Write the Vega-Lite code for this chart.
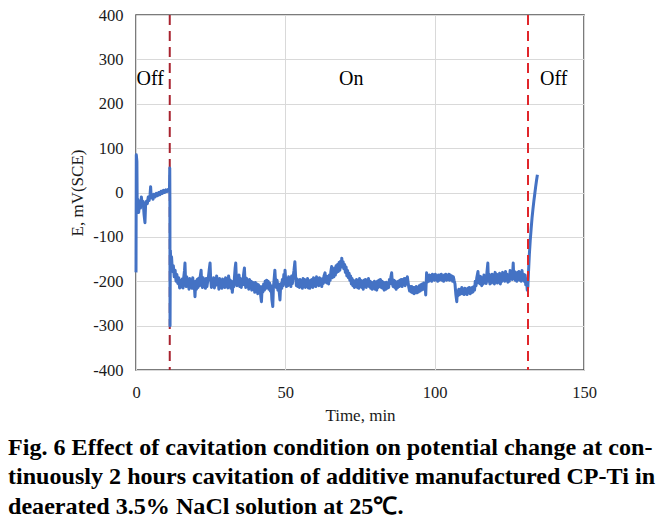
{
  "$schema": "https://vega.github.io/schema/vega-lite/v6.json",
  "width": 448,
  "height": 355,
  "autosize": {"type": "none"},
  "padding": {"left": 136, "top": 15, "right": 85, "bottom": 152},
  "background": "white",
  "config": {
    "view": {"stroke": "#505050", "strokeWidth": 1.5},
    "font": "Liberation Serif",
    "axis": {
      "domain": false,
      "ticks": false,
      "grid": true,
      "gridColor": "#d9d9d9",
      "gridWidth": 1,
      "labelFlush": false,
      "labelFont": "Liberation Serif",
      "labelFontSize": 16.5,
      "labelColor": "#1a1a1a",
      "titleFont": "Liberation Serif",
      "titleFontSize": 17,
      "titleFontWeight": "normal",
      "titleColor": "#1a1a1a"
    }
  },
  "title": {
    "text": [
      "Fig. 6 Effect of cavitation condition on potential change at con-",
      "tinuously 2 hours cavitation of additive manufactured CP-Ti in",
      "deaerated 3.5% NaCl solution at 25℃."
    ],
    "orient": "bottom",
    "anchor": "start",
    "frame": "group",
    "dx": -128,
    "offset": 12,
    "font": "Liberation Serif",
    "fontSize": 24.1,
    "fontWeight": "bold",
    "lineHeight": 29.5,
    "color": "#000000"
  },
  "datasets": {
    "series": [
      {"t":0.0,"E":-180},{"t":0.1,"E":85},{"t":0.3,"E":70},{"t":0.4,"E":-30},{"t":0.6,"E":-15},{"t":0.9,"E":-45},{"t":1.2,"E":-20},{"t":1.5,"E":-35},{"t":1.8,"E":-10},{"t":2.1,"E":-30},{"t":2.4,"E":-20},{"t":2.7,"E":-50},{"t":3.0,"E":-68},{"t":3.2,"E":-30},{"t":3.5,"E":-20},{"t":3.8,"E":-25},{"t":4.1,"E":-10},{"t":4.4,"E":-18},{"t":4.7,"E":-5},{"t":4.9,"E":13},{"t":5.1,"E":-12},{"t":5.4,"E":-5},{"t":5.7,"E":-15},{"t":6.0,"E":-4},{"t":6.4,"E":-10},{"t":6.8,"E":-2},{"t":7.2,"E":-7},{"t":7.6,"E":0},{"t":8.0,"E":-5},{"t":8.4,"E":3},{"t":8.8,"E":-2},{"t":9.2,"E":5},{"t":9.6,"E":0},{"t":10.0,"E":6},{"t":10.4,"E":2},{"t":10.8,"E":7},{"t":11.2,"E":4},
      {"t":11.3,"E":55},{"t":11.35,"E":-10},{"t":11.4,"E":-300},{"t":11.5,"E":-130},{"t":11.7,"E":-160},{"t":11.9,"E":-145},{"t":12.2,"E":-178},{"t":12.5,"E":-165},{"t":12.8,"E":-190},{"t":13.1,"E":-175},{"t":13.4,"E":-200},{"t":13.7,"E":-185},{"t":14.0,"E":-205},{"t":14.3,"E":-192},{"t":14.6,"E":-215},
      {"t":15.0,"E":-198},{"t":15.25,"E":-213},{"t":15.5,"E":-195},{"t":15.75,"E":-215},{"t":16.0,"E":-190},{"t":16.25,"E":-175},{"t":16.4,"E":-159},{"t":16.6,"E":-200},{"t":16.8,"E":-212},{"t":17.0,"E":-190},{"t":17.25,"E":-208},{"t":17.5,"E":-196},{"t":17.75,"E":-218},{"t":18.0,"E":-194},{"t":18.25,"E":-210},{"t":18.5,"E":-198},{"t":18.75,"E":-216},{"t":19.0,"E":-192},{"t":19.25,"E":-212},{"t":19.5,"E":-205},{"t":19.75,"E":-235},{"t":20.0,"E":-200},{"t":20.25,"E":-218},{"t":20.5,"E":-196},{"t":20.75,"E":-214},{"t":21.0,"E":-193},{"t":21.25,"E":-210},{"t":21.5,"E":-190},{"t":21.8,"E":-175},{"t":22.0,"E":-205},{"t":22.25,"E":-214},{"t":22.5,"E":-192},{"t":22.75,"E":-210},{"t":23.0,"E":-198},{"t":23.25,"E":-216},{"t":23.5,"E":-194},{"t":23.75,"E":-212},{"t":24.0,"E":-200},{"t":24.25,"E":-190},{"t":24.5,"E":-175},{"t":24.8,"E":-159},{"t":25.0,"E":-195},{"t":25.25,"E":-214},{"t":25.5,"E":-196},{"t":25.75,"E":-210},{"t":26.0,"E":-192},{"t":26.25,"E":-215},{"t":26.5,"E":-198},{"t":26.75,"E":-209},{"t":27.0,"E":-188},{"t":27.25,"E":-206},{"t":27.5,"E":-196},{"t":27.75,"E":-218},{"t":28.0,"E":-194},{"t":28.25,"E":-211},{"t":28.5,"E":-197},{"t":28.75,"E":-216},{"t":29.0,"E":-195},{"t":29.25,"E":-210},{"t":29.5,"E":-199},{"t":29.75,"E":-214},{"t":30.0,"E":-192},{"t":30.25,"E":-209},{"t":30.5,"E":-196},{"t":30.75,"E":-215},{"t":31.0,"E":-188},{"t":31.25,"E":-204},{"t":31.5,"E":-197},{"t":31.75,"E":-216},{"t":32.0,"E":-200},{"t":32.25,"E":-225},{"t":32.5,"E":-205},{"t":32.75,"E":-212},{"t":33.0,"E":-188},{"t":33.2,"E":-170},{"t":33.4,"E":-159},{"t":33.6,"E":-195},{"t":33.8,"E":-210},{"t":34.0,"E":-190},{"t":34.25,"E":-206},{"t":34.5,"E":-186},{"t":34.75,"E":-212},{"t":35.0,"E":-194},{"t":35.25,"E":-214},{"t":35.5,"E":-196},{"t":35.75,"E":-208},{"t":36.0,"E":-186},{"t":36.3,"E":-170},{"t":36.5,"E":-200},{"t":36.75,"E":-214},{"t":37.0,"E":-193},{"t":37.25,"E":-210},{"t":37.5,"E":-198},{"t":37.75,"E":-218},{"t":38.0,"E":-196},{"t":38.25,"E":-212},{"t":38.5,"E":-200},{"t":38.75,"E":-220},{"t":39.0,"E":-202},{"t":39.25,"E":-216},{"t":39.5,"E":-204},{"t":39.75,"E":-225},{"t":40.0,"E":-203},{"t":40.25,"E":-218},{"t":40.5,"E":-206},{"t":40.75,"E":-228},{"t":41.0,"E":-208},{"t":41.25,"E":-222},{"t":41.5,"E":-212},{"t":41.75,"E":-232},{"t":42.0,"E":-246},{"t":42.25,"E":-212},{"t":42.5,"E":-224},{"t":42.75,"E":-206},{"t":43.0,"E":-220},{"t":43.25,"E":-200},{"t":43.5,"E":-216},{"t":43.75,"E":-198},{"t":44.0,"E":-214},{"t":44.25,"E":-200},{"t":44.5,"E":-218},{"t":44.75,"E":-204},{"t":45.0,"E":-222},{"t":45.25,"E":-210},{"t":45.5,"E":-242},{"t":45.8,"E":-257},{"t":46.0,"E":-215},{"t":46.25,"E":-195},{"t":46.5,"E":-175},{"t":46.75,"E":-205},{"t":47.0,"E":-214},{"t":47.25,"E":-198},{"t":47.5,"E":-220},{"t":47.75,"E":-206},{"t":48.0,"E":-228},{"t":48.2,"E":-242},{"t":48.4,"E":-215},{"t":48.6,"E":-205},{"t":48.8,"E":-216},{"t":49.0,"E":-196},{"t":49.25,"E":-210},{"t":49.5,"E":-185},{"t":49.75,"E":-200},{"t":49.9,"E":-175},{"t":50.1,"E":-196},{"t":50.35,"E":-212},{"t":50.6,"E":-194},{"t":50.85,"E":-210},{"t":51.1,"E":-190},{"t":51.35,"E":-206},{"t":51.6,"E":-194},{"t":51.85,"E":-212},{"t":52.1,"E":-188},{"t":52.35,"E":-205},{"t":52.6,"E":-190},{"t":52.9,"E":-175},{"t":53.2,"E":-156},{"t":53.45,"E":-190},{"t":53.7,"E":-210},{"t":53.95,"E":-195},{"t":54.2,"E":-212},{"t":54.45,"E":-198},{"t":54.7,"E":-214},{"t":54.95,"E":-196},{"t":55.2,"E":-212},{"t":55.45,"E":-200},{"t":55.7,"E":-216},{"t":55.95,"E":-194},{"t":56.2,"E":-210},{"t":56.45,"E":-196},{"t":56.7,"E":-214},{"t":56.95,"E":-198},{"t":57.2,"E":-212},{"t":57.45,"E":-194},{"t":57.7,"E":-215},{"t":57.95,"E":-200},{"t":58.2,"E":-216},{"t":58.45,"E":-198},{"t":58.7,"E":-212},{"t":58.95,"E":-196},{"t":59.2,"E":-214},{"t":59.45,"E":-192},{"t":59.7,"E":-209},{"t":59.95,"E":-195},{"t":60.2,"E":-212},{"t":60.45,"E":-190},{"t":60.7,"E":-206},{"t":60.95,"E":-194},{"t":61.2,"E":-210},{"t":61.45,"E":-192},{"t":61.7,"E":-208},{"t":61.95,"E":-196},{"t":62.2,"E":-212},{"t":62.45,"E":-194},{"t":62.7,"E":-205},{"t":62.95,"E":-188},{"t":63.3,"E":-181},{"t":63.5,"E":-202},{"t":63.75,"E":-188},{"t":64.0,"E":-204},{"t":64.25,"E":-190},{"t":64.5,"E":-206},{"t":64.75,"E":-186},{"t":65.0,"E":-198},{"t":65.25,"E":-178},{"t":65.5,"E":-167},{"t":65.75,"E":-192},{"t":66.0,"E":-176},{"t":66.25,"E":-190},{"t":66.5,"E":-170},{"t":66.75,"E":-186},{"t":67.0,"E":-165},{"t":67.25,"E":-180},{"t":67.5,"E":-162},{"t":67.75,"E":-178},{"t":68.0,"E":-158},{"t":68.25,"E":-175},{"t":68.5,"E":-155},{"t":68.75,"E":-165},{"t":68.9,"E":-148},{"t":69.1,"E":-168},{"t":69.35,"E":-156},{"t":69.6,"E":-172},{"t":69.85,"E":-162},{"t":70.1,"E":-180},{"t":70.35,"E":-168},{"t":70.6,"E":-188},{"t":70.85,"E":-176},{"t":71.1,"E":-192},{"t":71.35,"E":-182},{"t":71.6,"E":-198},{"t":71.85,"E":-188},{"t":72.1,"E":-206},{"t":72.35,"E":-194},{"t":72.6,"E":-210},{"t":72.85,"E":-198},{"t":73.1,"E":-214},{"t":73.35,"E":-200},{"t":73.6,"E":-212},{"t":73.85,"E":-196},{"t":74.1,"E":-214},{"t":74.35,"E":-200},{"t":74.6,"E":-216},{"t":74.85,"E":-194},{"t":75.1,"E":-210},{"t":75.35,"E":-198},{"t":75.6,"E":-214},{"t":75.85,"E":-200},{"t":76.1,"E":-218},{"t":76.35,"E":-198},{"t":76.6,"E":-212},{"t":76.85,"E":-196},{"t":77.1,"E":-214},{"t":77.35,"E":-198},{"t":77.6,"E":-210},{"t":77.85,"E":-194},{"t":78.1,"E":-212},{"t":78.35,"E":-200},{"t":78.6,"E":-216},{"t":78.85,"E":-202},{"t":79.1,"E":-218},{"t":79.35,"E":-204},{"t":79.6,"E":-216},{"t":79.85,"E":-200},{"t":80.1,"E":-218},{"t":80.35,"E":-204},{"t":80.6,"E":-220},{"t":80.85,"E":-200},{"t":81.1,"E":-214},{"t":81.35,"E":-198},{"t":81.6,"E":-212},{"t":81.85,"E":-196},{"t":82.1,"E":-214},{"t":82.35,"E":-200},{"t":82.6,"E":-216},{"t":82.85,"E":-202},{"t":83.1,"E":-220},{"t":83.35,"E":-204},{"t":83.6,"E":-218},{"t":83.85,"E":-202},{"t":84.1,"E":-216},{"t":84.35,"E":-204},{"t":84.6,"E":-214},{"t":84.85,"E":-196},{"t":85.1,"E":-205},{"t":85.35,"E":-190},{"t":85.6,"E":-181},{"t":85.85,"E":-206},{"t":86.1,"E":-212},{"t":86.35,"E":-198},{"t":86.6,"E":-214},{"t":86.85,"E":-200},{"t":87.1,"E":-218},{"t":87.35,"E":-204},{"t":87.6,"E":-214},{"t":87.85,"E":-200},{"t":88.1,"E":-212},{"t":88.35,"E":-198},{"t":88.6,"E":-210},{"t":88.85,"E":-196},{"t":89.1,"E":-212},{"t":89.35,"E":-196},{"t":89.6,"E":-208},{"t":89.85,"E":-194},{"t":90.1,"E":-210},{"t":90.35,"E":-194},{"t":90.6,"E":-206},{"t":90.85,"E":-190},{"t":91.1,"E":-202},{"t":91.35,"E":-214},{"t":91.6,"E":-222},{"t":91.85,"E":-212},{"t":92.1,"E":-224},{"t":92.35,"E":-212},{"t":92.6,"E":-226},{"t":92.85,"E":-214},{"t":93.1,"E":-228},{"t":93.35,"E":-214},{"t":93.6,"E":-226},{"t":93.85,"E":-212},{"t":94.1,"E":-226},{"t":94.35,"E":-214},{"t":94.6,"E":-224},{"t":94.85,"E":-210},{"t":95.1,"E":-222},{"t":95.35,"E":-208},{"t":95.6,"E":-220},{"t":95.85,"E":-206},{"t":96.1,"E":-218},{"t":96.35,"E":-204},{"t":96.6,"E":-214},{"t":96.85,"E":-212},{"t":97.0,"E":-231},{"t":97.3,"E":-181},{"t":97.5,"E":-202},{"t":97.75,"E":-190},{"t":98.0,"E":-200},{"t":98.25,"E":-186},{"t":98.5,"E":-198},{"t":98.75,"E":-188},{"t":99.0,"E":-200},{"t":99.25,"E":-184},{"t":99.5,"E":-196},{"t":99.75,"E":-186},{"t":100.0,"E":-198},{"t":100.25,"E":-184},{"t":100.5,"E":-196},{"t":100.75,"E":-188},{"t":101.0,"E":-200},{"t":101.25,"E":-186},{"t":101.5,"E":-198},{"t":101.75,"E":-186},{"t":102.0,"E":-196},{"t":102.25,"E":-184},{"t":102.5,"E":-198},{"t":102.75,"E":-188},{"t":103.0,"E":-200},{"t":103.25,"E":-186},{"t":103.5,"E":-196},{"t":103.75,"E":-184},{"t":104.0,"E":-198},{"t":104.25,"E":-188},{"t":104.5,"E":-196},{"t":104.75,"E":-184},{"t":105.0,"E":-198},{"t":105.25,"E":-186},{"t":105.5,"E":-196},{"t":105.75,"E":-188},{"t":106.0,"E":-200},{"t":106.25,"E":-190},{"t":106.5,"E":-198},{"t":106.8,"E":-206},{"t":107.1,"E":-230},{"t":107.4,"E":-246},{"t":107.6,"E":-222},{"t":107.85,"E":-232},{"t":108.1,"E":-218},{"t":108.35,"E":-230},{"t":108.6,"E":-218},{"t":108.85,"E":-228},{"t":109.1,"E":-214},{"t":109.35,"E":-228},{"t":109.6,"E":-218},{"t":109.85,"E":-230},{"t":110.1,"E":-216},{"t":110.35,"E":-228},{"t":110.6,"E":-218},{"t":110.85,"E":-230},{"t":111.1,"E":-216},{"t":111.35,"E":-226},{"t":111.6,"E":-214},{"t":111.85,"E":-228},{"t":112.1,"E":-216},{"t":112.35,"E":-226},{"t":112.6,"E":-214},{"t":112.85,"E":-224},{"t":113.1,"E":-212},{"t":113.35,"E":-220},{"t":113.6,"E":-200},{"t":113.85,"E":-210},{"t":114.1,"E":-192},{"t":114.3,"E":-185},{"t":114.5,"E":-178},{"t":114.75,"E":-204},{"t":115.0,"E":-188},{"t":115.25,"E":-206},{"t":115.5,"E":-190},{"t":115.75,"E":-210},{"t":116.0,"E":-192},{"t":116.25,"E":-206},{"t":116.5,"E":-186},{"t":116.75,"E":-202},{"t":117.0,"E":-190},{"t":117.25,"E":-205},{"t":117.5,"E":-180},{"t":117.8,"E":-159},{"t":118.0,"E":-200},{"t":118.25,"E":-184},{"t":118.5,"E":-206},{"t":118.75,"E":-188},{"t":119.0,"E":-204},{"t":119.25,"E":-184},{"t":119.5,"E":-200},{"t":119.75,"E":-186},{"t":120.0,"E":-206},{"t":120.25,"E":-180},{"t":120.5,"E":-198},{"t":120.75,"E":-184},{"t":121.0,"E":-204},{"t":121.25,"E":-186},{"t":121.5,"E":-200},{"t":121.75,"E":-182},{"t":122.0,"E":-206},{"t":122.25,"E":-186},{"t":122.5,"E":-200},{"t":122.75,"E":-180},{"t":123.0,"E":-196},{"t":123.25,"E":-182},{"t":123.5,"E":-200},{"t":123.75,"E":-178},{"t":124.0,"E":-198},{"t":124.25,"E":-184},{"t":124.5,"E":-202},{"t":124.75,"E":-186},{"t":125.0,"E":-200},{"t":125.25,"E":-176},{"t":125.5,"E":-194},{"t":125.75,"E":-180},{"t":126.0,"E":-196},{"t":126.3,"E":-159},{"t":126.5,"E":-194},{"t":126.75,"E":-178},{"t":127.0,"E":-198},{"t":127.25,"E":-182},{"t":127.5,"E":-200},{"t":127.75,"E":-180},{"t":128.0,"E":-196},{"t":128.25,"E":-178},{"t":128.5,"E":-198},{"t":128.75,"E":-182},{"t":129.0,"E":-200},{"t":129.25,"E":-176},{"t":129.5,"E":-196},{"t":129.75,"E":-184},{"t":130.0,"E":-200},{"t":130.25,"E":-186},{"t":130.5,"E":-208},{"t":130.75,"E":-196},{"t":131.0,"E":-220},{"t":131.2,"E":-212},
      {"t":131.45,"E":-175},{"t":131.7,"E":-140},{"t":132.0,"E":-108},{"t":132.3,"E":-82},{"t":132.6,"E":-58},{"t":132.9,"E":-38},{"t":133.2,"E":-20},{"t":133.5,"E":-4},{"t":133.8,"E":12},{"t":134.1,"E":27},{"t":134.4,"E":40}
    ]
  },
  "layer": [
    {
      "data": {"values": [{"t": 11.3}]},
      "mark": {"type": "rule", "color": "#a8232f", "strokeWidth": 2, "strokeDash": [10, 6]},
      "encoding": {
        "x": {"field": "t", "type": "quantitative", "scale": {"domain": [0, 150], "nice": false},
          "axis": {"values": [0, 50, 100, 150], "labelPadding": 14, "title": "Time,  min", "titlePadding": 7}}
      }
    },
    {
      "data": {"name": "series"},
      "mark": {"type": "line", "color": "#4472c4", "strokeWidth": 3, "strokeJoin": "round"},
      "encoding": {
        "x": {"field": "t", "type": "quantitative"},
        "y": {"field": "E", "type": "quantitative", "scale": {"domain": [-400, 400], "nice": false},
          "axis": {"values": [-400, -300, -200, -100, 0, 100, 200, 300, 400], "labelPadding": 13,
            "labelExpr": "datum.value < 0 ? '-' + format(-datum.value, 'd') : format(datum.value, 'd')",
            "title": "E, mV(SCE)", "titlePadding": 6}}
      }
    },
    {
      "data": {"values": [{"t": 131.25}]},
      "mark": {"type": "rule", "color": "#e0262b", "strokeWidth": 2, "strokeDash": [10, 6]},
      "encoding": {
        "x": {"field": "t", "type": "quantitative"}
      }
    },
    {
      "data": {"values": [
        {"t": 0.2, "E": 255, "label": "Off", "a": "left"},
        {"t": 68, "E": 255, "label": "On", "a": "center"},
        {"t": 135.3, "E": 255, "label": "Off", "a": "left"}
      ]},
      "mark": {"type": "text", "font": "Liberation Serif", "fontSize": 20, "color": "#000000", "align": "left", "baseline": "middle"},
      "encoding": {
        "x": {"field": "t", "type": "quantitative"},
        "y": {"field": "E", "type": "quantitative"},
        "text": {"field": "label"},
        "align": {"field": "a"}
      }
    }
  ]
}
